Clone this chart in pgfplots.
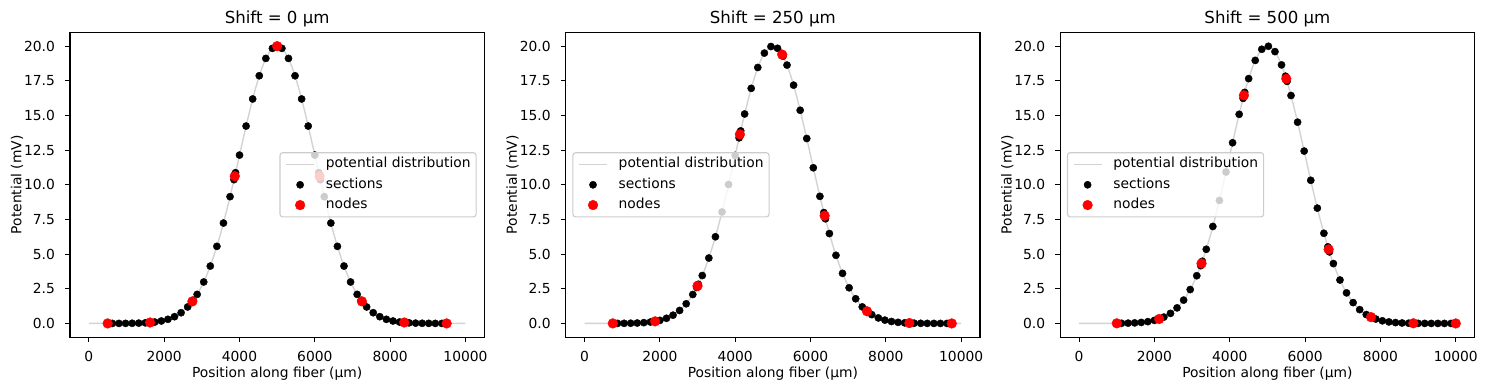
\documentclass[border=0pt]{standalone}
\usepackage{fontspec}
\setmainfont{DejaVu Sans}
\usepackage{pgfplots}
\usepackage{pgfplotstable}
\pgfplotsset{compat=1.18}
\definecolor{lgray}{RGB}{211,211,211}
\definecolor{legedge}{RGB}{204,204,204}
\definecolor{mplred}{RGB}{255,0,0}

\pgfplotstableread{
x y
0 0.0001
100 0.0001
200 0.0002
300 0.0003
400 0.0005
500 0.0008
600 0.0012
700 0.0019
800 0.0029
900 0.0045
1000 0.0067
1100 0.0100
1200 0.0146
1300 0.0213
1400 0.0307
1500 0.0437
1600 0.0618
1700 0.0864
1800 0.1195
1900 0.1638
2000 0.2222
2100 0.2984
2200 0.3968
2300 0.5224
2400 0.6809
2500 0.8787
2600 1.1227
2700 1.4201
2800 1.7784
2900 2.2050
3000 2.7067
3100 3.2895
3200 3.9580
3300 4.7149
3400 5.5607
3500 6.4930
3600 7.5062
3700 8.5911
3800 9.7350
3900 10.9215
4000 12.1306
4100 13.3395
4200 14.5230
4300 15.6541
4400 16.7054
4500 17.6499
4600 18.4623
4700 19.1199
4800 19.6040
4900 19.9002
5000 20.0000
5100 19.9002
5200 19.6040
5300 19.1199
5400 18.4623
5500 17.6499
5600 16.7054
5700 15.6541
5800 14.5230
5900 13.3395
6000 12.1306
6100 10.9215
6200 9.7350
6300 8.5911
6400 7.5062
6500 6.4930
6600 5.5607
6700 4.7149
6800 3.9580
6900 3.2895
7000 2.7067
7100 2.2050
7200 1.7784
7300 1.4201
7400 1.1227
7500 0.8787
7600 0.6809
7700 0.5224
7800 0.3968
7900 0.2984
8000 0.2222
8100 0.1638
8200 0.1195
8300 0.0864
8400 0.0618
8500 0.0437
8600 0.0307
8700 0.0213
8800 0.0146
8900 0.0100
9000 0.0067
9100 0.0045
9200 0.0029
9300 0.0019
9400 0.0012
9500 0.0008
9600 0.0005
9700 0.0003
9800 0.0002
9900 0.0001
10000 0.0001
}\linetab

\pgfplotstableread{
x y
500 0.0008
502 0.0008
521 0.0009
626 0.0014
800.5 0.003
975 0.0061
1150 0.012
1324.5 0.023
1499 0.044
1604 0.063
1623 0.067
1625 0.068
1627 0.068
1646 0.072
1751 0.102
1925.5 0.177
2100 0.298
2275 0.488
2449.5 0.774
2624 1.189
2729 1.517
2748 1.584
2750 1.591
2752 1.598
2771 1.668
2876 2.096
3050.5 2.991
3225 4.139
3400 5.561
3574.5 7.241
3749 9.145
3854 10.372
3873 10.598
3875 10.622
3877 10.646
3896 10.873
4001 12.143
4175.5 14.237
4350 16.191
4525 17.866
4699.5 19.117
4874 19.842
4979 19.996
4998 20.000
5000 20.000
5002 20.000
5021 19.996
5126 19.842
5300.5 19.117
5475 17.866
5650 16.191
5824.5 14.237
5999 12.143
6104 10.873
6123 10.646
6125 10.622
6127 10.598
6146 10.372
6251 9.145
6425.5 7.241
6600 5.561
6775 4.139
6949.5 2.991
7124 2.096
7229 1.668
7248 1.598
7250 1.591
7252 1.584
7271 1.517
7376 1.189
7550.5 0.774
7725 0.488
7900 0.298
8074.5 0.177
8249 0.102
8354 0.072
8373 0.068
8375 0.068
8377 0.067
8396 0.063
8501 0.044
8675.5 0.023
8850 0.012
9025 0.0061
9199.5 0.003
9374 0.0014
9479 0.0009
9498 0.0008
9500 0.0008
}\secA

\pgfplotstableread{
x y
500 0.0008
1625 0.068
2750 1.591
3875 10.622
5000 20.000
6125 10.622
7250 1.591
8375 0.068
9500 0.0008
}\nodA

\pgfplotstableread{
x y
750 0.0024
752 0.0024
771 0.0026
876 0.0041
1050.5 0.0082
1225 0.0161
1400 0.0307
1574.5 0.0566
1749 0.1014
1854 0.1419
1873 0.1506
1875 0.1515
1877 0.1524
1896 0.1618
2001 0.2228
2175.5 0.3704
2350 0.5972
2525 0.9351
2699.5 1.4185
2874 2.0871
2979 2.5948
2998 2.6959
3000 2.7067
3002 2.7175
3021 2.8222
3126 3.4549
3300.5 4.7189
3475 6.2521
3650 8.0404
3824.5 10.0225
3999 12.1185
4104 13.3875
4123 13.6149
4125 13.6388
4127 13.6627
4146 13.8887
4251 15.1081
4425.5 16.9574
4600 18.4623
4775 19.5001
4949.5 19.9745
5124 19.8468
5229 19.4824
5248 19.3943
5250 19.3847
5252 19.3749
5271 19.2789
5376 18.6350
5550.5 17.1879
5725 15.3777
5900 13.3395
6074.5 11.2285
6249 9.1681
6354 7.9971
6373 7.7925
6375 7.7712
6377 7.7498
6396 7.5483
6501 6.4833
6675.5 4.9140
6850 3.6128
7025 2.5739
7199.5 1.7804
7374 1.1946
7479 0.9259
7498 0.8831
7500 0.8787
7502 0.8743
7521 0.8336
7626 0.6362
7800.5 0.3963
7975 0.2394
8150 0.1401
8324.5 0.0796
8499 0.0439
8604 0.0302
8623 0.0282
8625 0.0281
8627 0.0280
8646 0.0260
8751 0.0176
8925.5 0.0090
9100 0.0045
9275 0.0022
9449.5 0.0010
9624 0.0005
9729 0.0003
9748 0.0003
9750 0.0003
}\secB

\pgfplotstableread{
x y
750 0.0024
1875 0.1515
3000 2.7067
4125 13.6388
5250 19.3847
6375 7.7712
7500 0.8787
8625 0.0281
9750 0.0003
}\nodB

\pgfplotstableread{
x y
1000 0.0067
1002 0.0067
1021 0.0073
1126 0.0110
1300.5 0.0213
1475 0.0401
1650 0.0731
1824.5 0.1292
1999 0.2215
2104 0.3019
2123 0.3189
2125 0.3208
2127 0.3226
2146 0.3406
2251 0.4571
2425.5 0.7274
2600 1.1227
2775 1.6827
2949.5 2.4436
3124 3.4420
3229 4.1683
3248 4.3102
3250 4.3253
3252 4.3405
3271 4.4862
3376 5.3497
3550.5 6.9951
3725 8.8722
3900 10.9215
4074.5 13.0326
4249 15.0855
4354 16.2335
4373 16.4310
4375 16.4515
4377 16.4721
4396 16.6652
4501 17.6588
4675.5 18.9742
4850 19.7763
5025 19.9938
5199.5 19.6059
5374 18.6490
5479 17.8323
5498 17.6676
5500 17.6499
5502 17.6323
5521 17.4617
5626 16.4413
5800.5 14.5172
5975 12.4338
6150 10.3241
6324.5 8.3193
6499 6.5028
6604 5.5252
6623 5.3584
6625 5.3410
6627 5.3237
6646 5.1607
6751 4.3177
6925.5 3.1329
7100 2.2050
7275 1.5037
7449.5 0.9958
7624 0.6396
7729 0.4829
7748 0.4584
7750 0.4559
7752 0.4534
7771 0.4302
7876 0.3198
8050.5 0.1907
8225 0.1103
8400 0.0618
8574.5 0.0336
8749 0.0177
8854 0.0119
8873 0.0110
8875 0.0110
8877 0.0110
8896 0.0101
9001 0.0067
9175.5 0.0033
9350 0.0016
9525 0.0007
9699.5 0.0003
9874 0.0001
9979 0.0001
9998 0.0001
10000 0.0001
}\secC

\pgfplotstableread{
x y
1000 0.0067
2125 0.3208
3250 4.3253
4375 16.4515
5500 17.6499
6625 5.3410
7750 0.4559
8875 0.0110
10000 0.0001
}\nodC

\pgfplotsset{
  panel/.style={
    scale only axis, width=298.3bp, height=219.6bp,
    anchor=south west,
    xmin=-500, xmax=10500, ymin=-1, ymax=21,
    xtick={0,2000,4000,6000,8000,10000},
    ytick={0,2.5,5,7.5,10,12.5,15,17.5,20},
    scaled x ticks=false, scaled y ticks=false,
    tick align=outside, tick pos=left,
    major tick length=3.5bp,
    every tick/.style={black, line width=0.8bp},
    axis line style={line width=0.8bp},
    /pgf/number format/assume math mode=true,
    /pgf/number format/1000 sep={},
    yticklabel style={/pgf/number format/fixed, /pgf/number format/fixed zerofill, /pgf/number format/precision=1, anchor=east, inner sep=0pt, xshift=-7.2bp},
    xticklabel style={/pgf/number format/fixed, anchor=base, inner sep=0pt, yshift=-14bp},
    tick label style={font=\fontsize{10}{12}\selectfont},
    label style={font=\fontsize{10}{12}\selectfont},
    xlabel style={at={(axis description cs:0.5,-0.119)}, anchor=center},
    ylabel style={at={(axis description cs:-0.1281,0.5)}, anchor=center},
    every axis title/.style={at={(axis description cs:0.5,1.0273)}, anchor=base, font=\fontsize{12}{14}\selectfont, inner sep=0pt},
    xlabel={Position along fiber (µm)},
    ylabel={Potential (mV)},
    legend cell align=left,
    legend image code/.code={\draw[opacity=1, mark repeat=2,mark phase=2,##1] plot coordinates {(0bp,0bp) (10bp,0bp) (20bp,0bp)};},
    legend style={fill=white, fill opacity=0.8, draw opacity=1, text opacity=1,
      draw=legedge, line width=0.8bp, rounded corners=2bp,
      font=\fontsize{10}{12}\selectfont,
      inner xsep=4bp, inner ysep=3.5bp, row sep=4.6bp,
      nodes={inner sep=0pt, text height=7.5bp, text depth=2.5bp},
      /tikz/every odd column/.append style={column sep=8bp}},
  },
  linestyle/.style={color=lgray, line width=1bp},
  secstyle/.style={only marks, mark=*, mark size=2.6bp, black, mark options={fill=black, draw=black, line width=0.3bp, opacity=1}},
  nodstyle/.style={only marks, mark=*, mark size=3.5bp, mplred, mark options={fill=mplred, draw=mplred, line width=0.3bp, opacity=1}},
}

\begin{document}
\begin{tikzpicture}
\path[use as bounding box] (0,0) rectangle (1069.92bp,280.8bp);

\begin{axis}[panel, at={(50.4bp,37.94bp)}, title={Shift = 0 µm},
  legend style={at={(0.9817,0.5)}, anchor=east}]
\addplot[linestyle] table {\linetab};
\addplot[secstyle] table {\secA};
\addplot[nodstyle] table {\nodA};
\legend{potential distribution, sections, nodes}
\end{axis}

\begin{axis}[panel, at={(407.3bp,37.94bp)}, title={Shift = 250 µm},
  legend style={at={(0.016,0.5)}, anchor=west}]
\addplot[linestyle] table {\linetab};
\addplot[secstyle] table {\secB};
\addplot[nodstyle] table {\nodB};
\legend{potential distribution, sections, nodes}
\end{axis}

\begin{axis}[panel, at={(763.4bp,37.94bp)}, title={Shift = 500 µm},
  legend style={at={(0.016,0.5)}, anchor=west}]
\addplot[linestyle] table {\linetab};
\addplot[secstyle] table {\secC};
\addplot[nodstyle] table {\nodC};
\legend{potential distribution, sections, nodes}
\end{axis}
\end{tikzpicture}
\end{document}
